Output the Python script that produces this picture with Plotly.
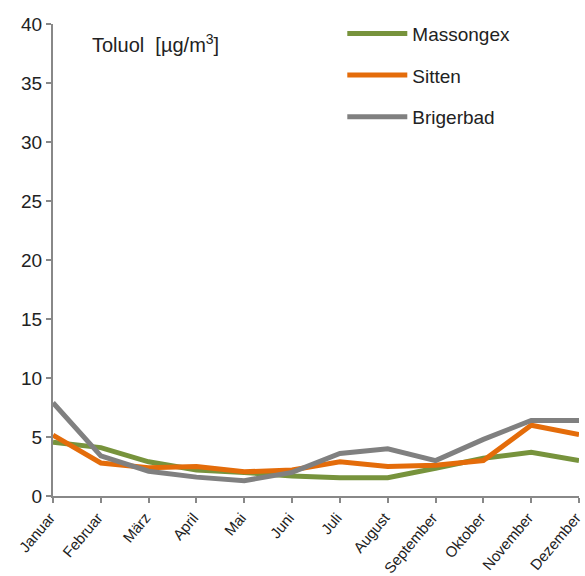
import plotly.graph_objects as go

months = ["Januar", "Februar", "März", "April", "Mai", "Juni", "Juli",
          "August", "September", "Oktober", "November", "Dezember"]
massongex = [4.55, 4.1, 2.9, 2.2, 2.0, 1.7, 1.55, 1.55, 2.35, 3.2, 3.7, 3.0]
sitten = [5.15, 2.8, 2.4, 2.5, 2.05, 2.2, 2.9, 2.5, 2.6, 3.0, 6.0, 5.2]
brigerbad = [7.9, 3.4, 2.1, 1.6, 1.3, 2.0, 3.6, 4.0, 3.0, 4.8, 6.4, 6.4]

series = [("Massongex", massongex, "#77933C"),
          ("Sitten", sitten, "#E46C0A"),
          ("Brigerbad", brigerbad, "#808080")]

font = "Liberation Sans, Arial, sans-serif"
narrow = "Liberation Sans Narrow, Arial Narrow, Liberation Sans, sans-serif"
fig = go.Figure()
for name, vals, color in series:
    fig.add_trace(go.Scatter(x=months, y=vals, name=name, mode="lines",
                             legendgroup=name,
                             line=dict(color=color, width=5)))

fig.update_layout(
    width=585, height=576,
    margin=dict(l=53, r=6, t=24, b=80),
    paper_bgcolor="white", plot_bgcolor="white",
    font=dict(family=font, color="#222"),
    showlegend=True,
    legend=dict(x=0.55, y=1.02, xanchor="left", yanchor="top",
                font=dict(size=19, family=narrow, color="#222"),
                itemwidth=60, tracegroupgap=14,
                bgcolor="rgba(0,0,0,0)"),
    annotations=[dict(text="Toluol  [µg/m<sup>3</sup>]", x=0.07, y=0.99,
                      xref="paper", yref="paper", xanchor="left", yanchor="top",
                      showarrow=False, font=dict(size=20, family=narrow, color="#222"))],
)
fig.update_xaxes(showgrid=False, showline=True, linecolor="#888", linewidth=2,
                 ticks="outside", ticklen=5, tickcolor="#888", tickwidth=2,
                 tickangle=-50, tickfont=dict(size=15, family=narrow, color="#222"),
                 ticklabelshift=-3,
                 range=[0, 11], zeroline=False, automargin=False)
fig.update_yaxes(showgrid=False, showline=True, linecolor="#888", linewidth=2,
                 ticks="outside", ticklen=5, tickcolor="#888", tickwidth=2,
                 range=[0, 40], dtick=5, zeroline=False, automargin=False,
                 tickfont=dict(size=19, family=font, color="#222"))
fig.write_html("out.html")
